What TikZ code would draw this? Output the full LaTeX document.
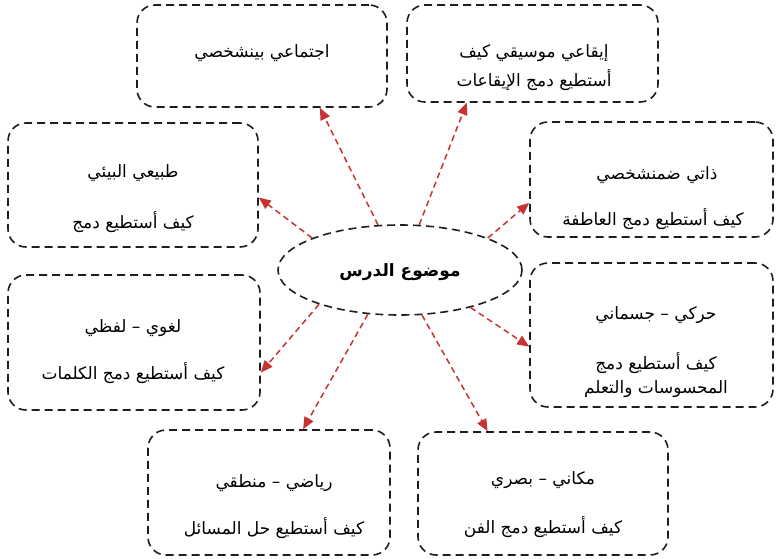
\documentclass[tikz,border=0pt]{standalone}
\usepackage{fontspec}
\usetikzlibrary{shapes.geometric,arrows.meta,calc}
\newfontfamily\arabicfont[Script=Arabic]{DejaVu Sans}
\TeXXeTstate=1
\definecolor{arrred}{RGB}{200,50,50}
\definecolor{boxline}{RGB}{30,30,30}
\tikzset{
  boxnode/.style={draw=boxline, line width=1.6pt, dash pattern=on 8pt off 5pt,
    rounded corners=18pt, inner sep=0pt},
  lbl/.style={font=\arabicfont\fontsize{17}{20}\selectfont, inner sep=0pt, text=black},
  arr/.style={draw=arrred, line width=1.5pt, dash pattern=on 6pt off 4pt,
    -{Triangle[length=12pt,width=10pt,fill=arrred]}},
}
\newcommand{\rl}[1]{\beginR #1\endR}
\begin{document}
\begin{tikzpicture}[x=1pt,y=-1pt]
\useasboundingbox (0,0) rectangle (776,559);
% boxes
\node[boxnode, minimum width=250pt, minimum height=102pt] (b1) at (262,56) {};
\node[boxnode, minimum width=251pt, minimum height=97pt] (b2) at (532.5,53.5) {};
\node[boxnode, minimum width=250pt, minimum height=124pt] (b3) at (133,185) {};
\node[boxnode, minimum width=243pt, minimum height=115pt] (b4) at (651.5,179.5) {};
\node[boxnode, minimum width=252pt, minimum height=135pt] (b5) at (134,342.5) {};
\node[boxnode, minimum width=243pt, minimum height=144pt] (b6) at (651.5,335) {};
\node[boxnode, minimum width=242pt, minimum height=125pt] (b7) at (269,492.5) {};
\node[boxnode, minimum width=250pt, minimum height=123pt] (b8) at (543,493.5) {};
% centre
\node[draw=boxline, line width=1.6pt, dash pattern=on 8pt off 5pt, ellipse,
  minimum width=244pt, minimum height=90pt, inner sep=0pt] (c) at (400,270) {};
\node[lbl, font=\arabicfont\bfseries\fontsize{17}{20}\selectfont] (ct) at (400,272) {\rl{موضوع الدرس}};
% labels
\node[lbl] (t1a) at (262,53) {\rl{اجتماعي بينشخصي}};
\node[lbl] (t2a) at (534,53) {\rl{إيقاعي موسيقي كيف}};
\node[lbl] (t2b) at (534,80) {\rl{أستطيع دمج الإيقاعات}};
\node[lbl] (t3a) at (133,173) {\rl{طبيعي البيئي}};
\node[lbl] (t3b) at (133,222) {\rl{كيف أستطيع دمج}};
\node[lbl] (t4a) at (657,175) {\rl{ذاتي ضمنشخصي}};
\node[lbl] (t4b) at (653,219) {\rl{كيف أستطيع دمج العاطفة}};
\node[lbl] (t5a) at (133,328) {\rl{لغوي – لفظي}};
\node[lbl] (t5b) at (133,373) {\rl{كيف أستطيع دمج الكلمات}};
\node[lbl] (t6a) at (656,315) {\rl{حركي – جسماني}};
\node[lbl] (t6b) at (656,363) {\rl{كيف أستطيع دمج}};
\node[lbl] (t6c) at (656,389) {\rl{المحسوسات والتعلم}};
\node[lbl] (t7a) at (274,483) {\rl{رياضي – منطقي}};
\node[lbl] (t7b) at (274,528) {\rl{كيف أستطيع حل المسائل}};
\node[lbl] (t8a) at (543,480) {\rl{مكاني – بصري}};
\node[lbl] (t8b) at (543,527) {\rl{كيف أستطيع دمج الفن}};
% arrows
\draw[arr] (c.116) -- ($(b1.south west)!0.73!(b1.south east)$);
\draw[arr] (c.67) -- ($(b2.south west)!0.24!(b2.south east)$);
\draw[arr] (c.160) -- ($(b3.north east)!0.6!(b3.south east)$);
\draw[arr] (c.20.6) -- ($(b4.north west)!0.70!(b4.south west)$);
\draw[arr] (c.203) -- ($(b5.north east)!0.72!(b5.south east)$);
\draw[arr] (c.332) -- ($(b6.north west)!0.58!(b6.south west)$);
\draw[arr] (c.234) -- ($(b7.north west)!0.64!(b7.north east)$);
\draw[arr] (c.296) -- ($(b8.north west)!0.28!(b8.north east)$);
\end{tikzpicture}
\end{document}
